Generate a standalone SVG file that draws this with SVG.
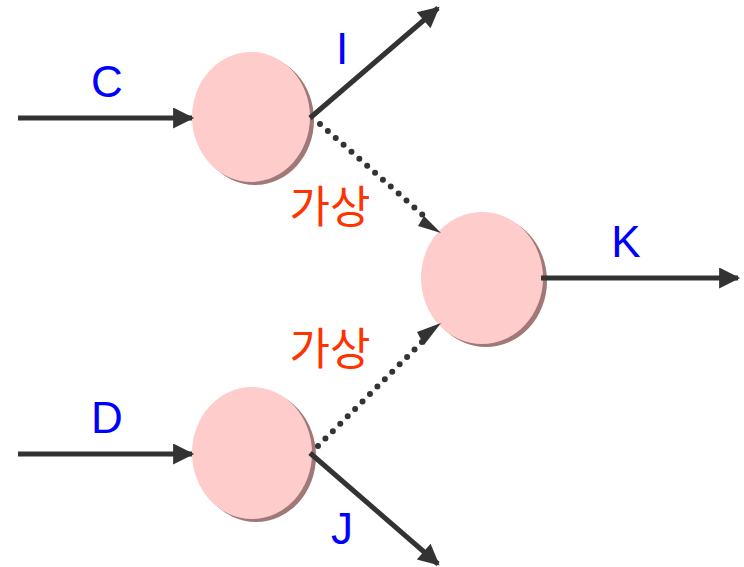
<svg xmlns="http://www.w3.org/2000/svg" width="744" height="567" viewBox="0 0 744 567">
<style>
.node{fill:#ffcccc;}
.shadow{fill:#a07878;}
.edge{stroke:#333333;stroke-width:5;fill:none;}
.dot{stroke:#333333;stroke-width:6;stroke-linecap:round;stroke-dasharray:0 10.5;fill:none;}
.lbl{font-family:"Liberation Sans",Arial,sans-serif;font-size:44px;fill:#0000ff;text-anchor:middle;}
.kr{font-family:"Noto Sans CJK KR","Liberation Sans",sans-serif;font-size:44px;fill:#ff3300;text-anchor:middle;}
</style>
<defs>
<marker id="ah" viewBox="0 0 10 10" refX="9" refY="5" markerWidth="4.6" markerHeight="4.2" orient="auto" markerUnits="strokeWidth">
<path d="M0,0 L10,5 L0,10 z" fill="#333333"/>
</marker>
<radialGradient id="g" cx="0.5" cy="0.5" r="0.5">
<stop offset="0.9" stop-color="#ffcccc"/>
<stop offset="1" stop-color="#ffd6d6"/>
</radialGradient>
</defs>
<g id="n1">
<ellipse class="shadow" cx="255" cy="120" rx="59" ry="65"/>
<ellipse class="node" cx="251" cy="117" rx="59" ry="65" fill="url(#g)"/>
</g>
<g id="n2">
<ellipse class="shadow" cx="486" cy="281" rx="61" ry="66"/>
<ellipse class="node" cx="482" cy="278" rx="61" ry="66" fill="url(#g)"/>
</g>
<g id="n3">
<ellipse class="shadow" cx="256" cy="456" rx="60" ry="66"/>
<ellipse class="node" cx="252" cy="453" rx="60" ry="66" fill="url(#g)"/>
</g>
<g id="connectors">
<line class="edge" x1="18" y1="118" x2="192" y2="118" marker-end="url(#ah)"/>
<line class="edge" x1="18" y1="454" x2="192" y2="454" marker-end="url(#ah)"/>
<line class="edge" x1="541" y1="278" x2="738" y2="278" marker-end="url(#ah)"/>
<line class="edge" x1="310" y1="118" x2="438" y2="8" marker-end="url(#ah)"/>
<line class="edge" x1="310" y1="453" x2="438" y2="564" marker-end="url(#ah)"/>
<line class="dot" x1="320" y1="124" x2="424" y2="216"/>
<path d="M424,216 L441,233 L418,226 z" fill="#333333"/>
<line class="dot" x1="318" y1="446" x2="424" y2="340"/>
<path d="M441,323 L424,345 L417,332 z" fill="#333333"/>
</g>
<g id="labels">
<text class="lbl" x="107" y="97">C</text>
<text class="lbl" x="342" y="64">I</text>
<text class="lbl" x="626" y="257">K</text>
<text class="lbl" x="107" y="433">D</text>
<text class="lbl" x="342" y="544">J</text>
<text class="kr" x="330" y="223">가상</text>
<text class="kr" x="330" y="365">가상</text>
</g>
</svg>
